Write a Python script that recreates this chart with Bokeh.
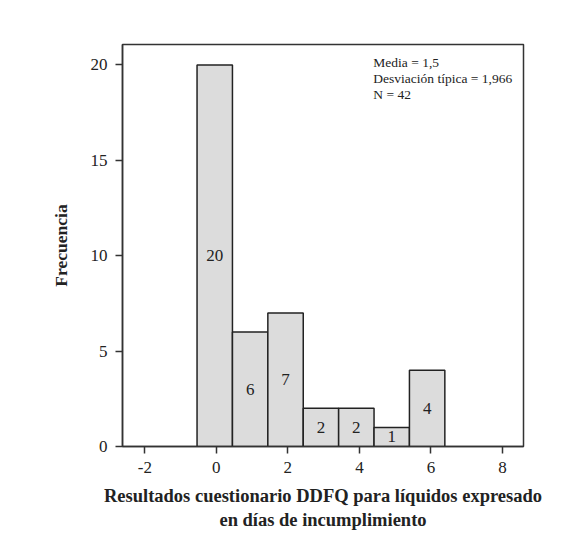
from bokeh.plotting import figure
from bokeh.models import Range1d, FixedTicker, ColumnDataSource, Label
from bokeh.core.properties import value
from bokeh.embed import file_html
from bokeh.resources import INLINE

# ---- data ----
bin_edges = [-0.54, 0.45, 1.44, 2.43, 3.42, 4.41, 5.40, 6.39]
counts = [20, 6, 7, 2, 2, 1, 4]
x_ticks = [-2, 0, 2, 4, 6, 8]
y_ticks = [0, 5, 10, 15, 20]
stats_lines = ["Media = 1,5", "Desviación típica = 1,966", "N = 42"]
x_title = "Resultados cuestionario DDFQ para líquidos expresado\nen días de incumplimiento"
y_title = "Frecuencia"

FONT = "Liberation Serif"
DARK = "#333333"

W, H = 578, 554
ML, MR, MT, MB = 122, 55, 44, 108
X0, X1, Y0, Y1 = -2.625, 8.59, 0.0, 21.07

p = figure(width=W, height=H,
           x_range=Range1d(X0, X1), y_range=Range1d(Y0, Y1),
           output_backend="svg", toolbar_location=None,
           min_border_left=ML, min_border_right=MR,
           min_border_top=MT, min_border_bottom=MB)

p.xgrid.visible = False
p.ygrid.visible = False
p.outline_line_color = DARK
p.outline_line_width = 1.5
p.background_fill_color = "white"
p.border_fill_color = "white"

# outer page frame drawn as a padded, empty label box whose top-left
# corner sits at canvas pixel (11, 13); right/bottom edges fall off-canvas
PAD = 600
sx = (W - ML - MR) / (X1 - X0)
sy = (H - MT - MB) / (Y1 - Y0)
anchor_x = X0 + (11 + PAD - ML) / sx
anchor_y = Y0 - (13 + PAD - (H - MB)) / sy
p.add_layout(Label(x=anchor_x, y=anchor_y, text=" ", text_align="left",
                   text_baseline="top", text_font_size="1px",
                   padding=PAD, border_line_color=DARK, border_line_width=2,
                   background_fill_color=None))

src = ColumnDataSource(dict(
    left=bin_edges[:-1], right=bin_edges[1:], top=counts,
    xc=[(a + b) / 2 for a, b in zip(bin_edges[:-1], bin_edges[1:])],
    ym=[c / 2 for c in counts], lab=[str(c) for c in counts]))

p.quad(left="left", right="right", bottom=0, top="top", source=src,
       fill_color="#dcdcdc", line_color="#222222", line_width=1.5)
p.text(x="xc", y="ym", text="lab", source=src, text_align="center",
       text_baseline="middle", text_font=value(FONT), text_font_size="17px",
       text_color="#222222")

# statistics box text
p.text(x=[4.39] * len(stats_lines),
       y=[20.14 - i * 0.835 for i in range(len(stats_lines))],
       text=stats_lines, text_align="left", text_baseline="middle",
       text_font=value(FONT), text_font_size="13.5px", text_color="#222222")

for ax, ticks in ((p.xaxis[0], x_ticks), (p.yaxis[0], y_ticks)):
    ax.ticker = FixedTicker(ticks=ticks)
    ax.major_label_overrides = {t: str(t) for t in ticks}
    ax.minor_tick_line_color = None
    ax.major_tick_in = 0
    ax.major_tick_out = 7
    ax.major_tick_line_color = DARK
    ax.major_tick_line_width = 1.5
    ax.axis_line_color = DARK
    ax.axis_line_width = 1.5
    ax.major_label_text_font = FONT
    ax.major_label_text_font_size = "17px"
    ax.major_label_text_color = "#222222"
    ax.major_label_standoff = 8
    ax.axis_label_text_font = FONT
    ax.axis_label_text_font_style = "bold"
    ax.axis_label_text_color = "#222222"

p.xaxis[0].axis_label = x_title
p.yaxis[0].axis_label = y_title
p.xaxis[0].axis_label_text_font_size = "18.5px"
p.yaxis[0].axis_label_text_font_size = "17.5px"
p.xaxis[0].axis_label_standoff = 10
p.yaxis[0].axis_label_standoff = 17

open("out.html", "w").write(file_html(p, INLINE))
